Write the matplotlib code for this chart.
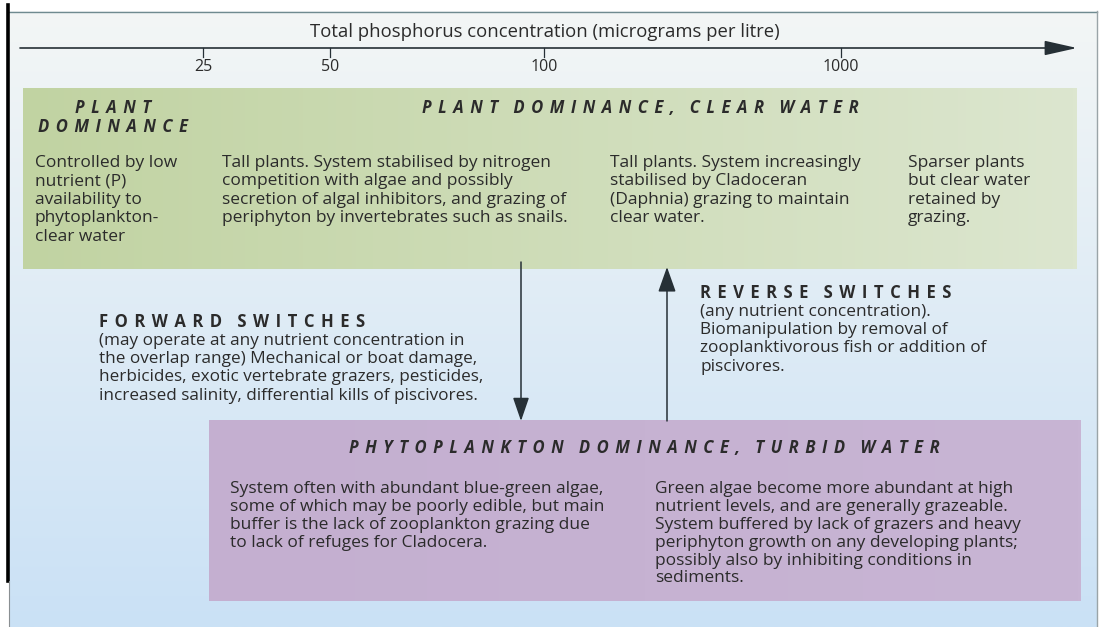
import numpy as np
import matplotlib
matplotlib.use("Agg")
import matplotlib.pyplot as plt
from matplotlib.colors import to_rgb

# ---------------- data ----------------
axis_title = "Total phosphorus concentration (micrograms per litre)"
tick_labels = ["25", "50", "100", "1000"]

plant_left_title = ["PLANT", "DOMINANCE"]
plant_title = "PLANT DOMINANCE, CLEAR WATER"
plant_col1 = ["Controlled by low", "nutrient (P)", "availability to", "phytoplankton-", "clear water"]
plant_col2 = ["Tall plants. System stabilised by nitrogen",
              "competition with algae and possibly",
              "secretion of algal inhibitors, and grazing of",
              "periphyton by invertebrates such as snails."]
plant_col3 = ["Tall plants. System increasingly", "stabilised by Cladoceran",
              "(Daphnia) grazing to maintain", "clear water."]
plant_col4 = ["Sparser plants", "but clear water", "retained by", "grazing."]

fwd_title = "FORWARD SWITCHES"
fwd_body = ["(may operate at any nutrient concentration in",
            "the overlap range) Mechanical or boat damage,",
            "herbicides, exotic vertebrate grazers, pesticides,",
            "increased salinity, differential kills of piscivores."]
rev_title = "REVERSE SWITCHES"
rev_body = ["(any nutrient concentration).",
            "Biomanipulation by removal of",
            "zooplanktivorous fish or addition of",
            "piscivores."]

phyto_title = "PHYTOPLANKTON DOMINANCE, TURBID WATER"
phyto_col1 = ["System often with abundant blue-green algae,",
              "some of which may be poorly edible, but main",
              "buffer is the lack of zooplankton grazing due",
              "to lack of refuges for Cladocera."]
phyto_col2 = ["Green algae become more abundant at high",
              "nutrient levels, and are generally grazeable.",
              "System buffered by lack of grazers and heavy",
              "periphyton growth on any developing plants;",
              "possibly also by inhibiting conditions in",
              "sediments."]

# ---------------- layout (pixels) ----------------
W, H = 1099, 627
tick_px = [203, 330, 544, 841]
TXT = "#2b2b2b"
LINE = "#263036"
MAIN = ["Open Sans", "DejaVu Sans"]

fig = plt.figure(figsize=(W / 100, H / 100), dpi=100)
fig.patch.set_facecolor("white")
ax = fig.add_axes([0, 0, 1, 1])
ax.axis("off")
ax.set_xlim(0, W)
ax.set_ylim(H, 0)
renderer = fig.canvas.get_renderer()


def hgrad(c0, c1, n=256):
    a, b = np.array(to_rgb(c0)), np.array(to_rgb(c1))
    t = np.linspace(0, 1, n)[None, :, None]
    return a + (b - a) * t


def vgrad(c0, c1, n=256):
    a, b = np.array(to_rgb(c0)), np.array(to_rgb(c1))
    t = np.linspace(0, 1, n)[:, None, None]
    return a + (b - a) * t


def tracked(x, y, s, width_px, ha="left", **kw):
    """Letter-spaced heading: pick the hair-space count whose width best fits."""
    best = None
    for n in range(0, 14):
        sep = "\u200a" * n
        words = [sep.join(w) for w in s.split(" ")]
        txt = (sep + "  ").join(words)
        t = ax.text(x, y, txt, ha=ha, va="center", color=TXT, family=MAIN, zorder=4, **kw)
        w = t.get_window_extent(renderer).width
        err = abs(w - width_px)
        if best is None or err < best[0]:
            if best is not None:
                best[1].remove()
            best = (err, t)
        else:
            t.remove()
    return best[1]


# page background
ax.imshow(vgrad("#f3f6f6", "#cae1f5"), extent=(9, 1097, 627, 11), aspect="auto", zorder=0)
ax.plot([9, 1097], [11.5, 11.5], color="#6f8a90", lw=1.0, zorder=1)
ax.plot([1097, 1097], [11, 627], color="#9aa4a8", lw=1.0, zorder=1)
ax.plot([8, 8], [5, 581], color="black", lw=2.6, zorder=2)
ax.plot([9, 9], [581, 627], color="#8a8f92", lw=0.8, zorder=2)

# boxes
ax.imshow(hgrad("#c1d3a2", "#dce6cf"), extent=(23, 1077, 269, 88), aspect="auto", zorder=1)
ax.imshow(hgrad("#c4afd0", "#c8b5d4"), extent=(209, 1081, 601, 420), aspect="auto", zorder=1)

# top axis
ax.annotate("", xy=(1077, 48), xytext=(20, 48),
            arrowprops=dict(arrowstyle="-|>,head_length=2.0,head_width=0.45",
                            color=LINE, lw=1.2, shrinkA=0, shrinkB=0), zorder=3)
for xp, lab in zip(tick_px, tick_labels):
    ax.plot([xp, xp], [48, 57], color=LINE, lw=0.9, zorder=3)
    ax.text(xp, 67, lab, ha="center", va="center", fontsize=11.5, family=MAIN, color=TXT)
ax.text(545, 32, axis_title, ha="center", va="center", fontsize=13.3, family=MAIN, color=TXT)

# switch arrows
ax.annotate("", xy=(521, 421), xytext=(521, 262),
            arrowprops=dict(arrowstyle="-|>,head_length=1.45,head_width=0.5",
                            color=LINE, lw=1.1, shrinkA=0, shrinkB=0), zorder=3)
ax.annotate("", xy=(667, 267), xytext=(667, 421),
            arrowprops=dict(arrowstyle="-|>,head_length=1.55,head_width=0.55",
                            color=LINE, lw=1.1, shrinkA=0, shrinkB=0), zorder=3)


def block(x, y, lines, dy=18.4, size=12.5):
    for i, ln in enumerate(lines):
        ax.text(x, y + i * dy, ln, ha="left", va="center", fontsize=size, family=MAIN,
                color=TXT, zorder=4)


bi = dict(fontsize=12, weight="bold", style="italic")
# plant box
tracked(113, 108, plant_left_title[0], 77, ha="center", **bi)
tracked(113, 127, plant_left_title[1], 154, ha="center", **bi)
tracked(640, 108, plant_title, 451, ha="center", **bi)
block(35, 163, plant_col1)
block(222, 163, plant_col2)
block(610, 163, plant_col3)
block(908, 163, plant_col4)

# switches
tracked(99, 322, fwd_title, 258, ha="left", fontsize=12, weight="bold")
block(99, 341, fwd_body, dy=18.2, size=12.3)
tracked(700, 293, rev_title, 251, ha="left", fontsize=12, weight="bold")
block(700, 312, rev_body, dy=18.2, size=12.4)

# phytoplankton box
tracked(644, 448, phyto_title, 607, ha="center", **bi)
block(230, 489, phyto_col1, dy=17.9, size=12.5)
block(655, 489, phyto_col2, dy=17.9, size=12.5)

ax.set_xlim(0, W)
ax.set_ylim(H, 0)
fig.savefig("out.png", dpi=100, facecolor="white")
